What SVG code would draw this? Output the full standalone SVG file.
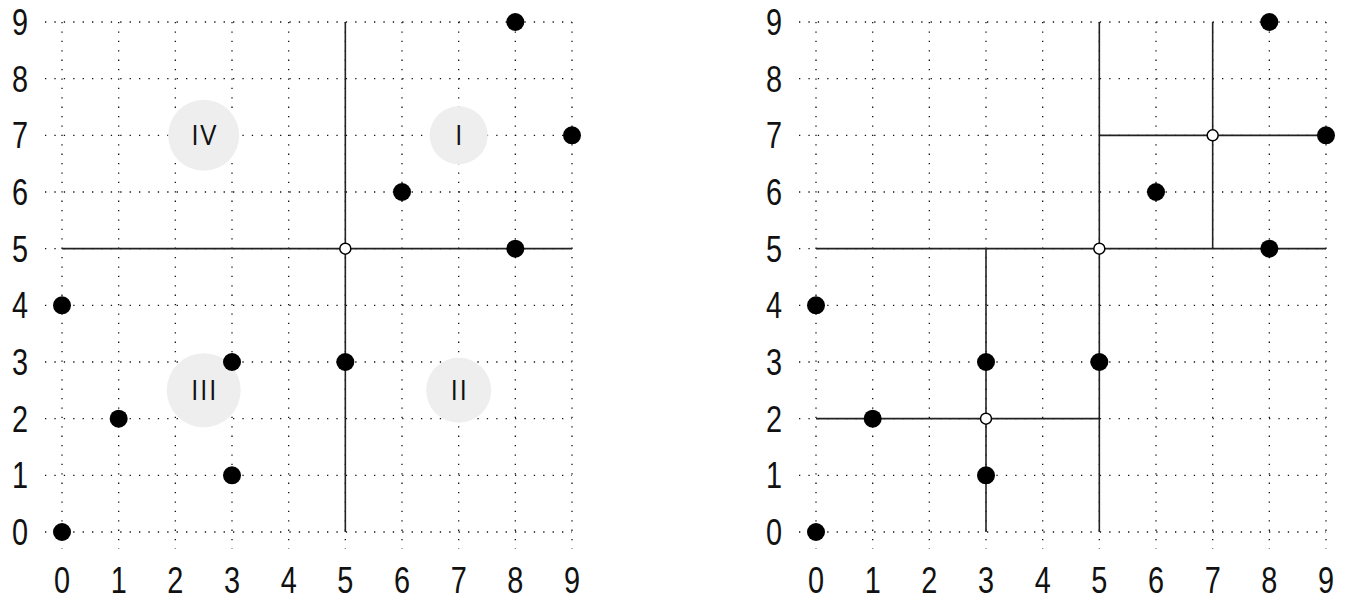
<svg xmlns="http://www.w3.org/2000/svg" xmlns:xlink="http://www.w3.org/1999/xlink" width="1366" height="616" viewBox="0 0 1366 616">
<style>
.grid line{stroke:#111;stroke-width:1.3;stroke-dasharray:1.3 8.1;fill:none}
.ax{font-family:"Liberation Sans",Arial,sans-serif;font-size:37px;fill:#111;text-anchor:middle}
.q{font-family:"Open Sans","Liberation Sans",sans-serif;font-size:27px;fill:#111;text-anchor:middle;letter-spacing:1.5px}
.qc{fill:#eeeeee}
.split{stroke:#222;stroke-width:1.6;fill:none}
.pt{fill:#000}
.op{fill:#fff;stroke:#000;stroke-width:1.5}
</style>
<defs>
<g id="grid" class="grid">
<line x1="45" y1="532" x2="572" y2="532"/>
<line x1="45" y1="475.33" x2="572" y2="475.33"/>
<line x1="45" y1="418.67" x2="572" y2="418.67"/>
<line x1="45" y1="362" x2="572" y2="362"/>
<line x1="45" y1="305.33" x2="572" y2="305.33"/>
<line x1="45" y1="248.67" x2="572" y2="248.67"/>
<line x1="45" y1="192" x2="572" y2="192"/>
<line x1="45" y1="135.33" x2="572" y2="135.33"/>
<line x1="45" y1="78.67" x2="572" y2="78.67"/>
<line x1="45" y1="22" x2="572" y2="22"/>
<line x1="62" y1="22" x2="62" y2="549"/>
<line x1="118.67" y1="22" x2="118.67" y2="549"/>
<line x1="175.33" y1="22" x2="175.33" y2="549"/>
<line x1="232" y1="22" x2="232" y2="549"/>
<line x1="288.67" y1="22" x2="288.67" y2="549"/>
<line x1="345.33" y1="22" x2="345.33" y2="549"/>
<line x1="402" y1="22" x2="402" y2="549"/>
<line x1="458.67" y1="22" x2="458.67" y2="549"/>
<line x1="515.33" y1="22" x2="515.33" y2="549"/>
<line x1="572" y1="22" x2="572" y2="549"/>
</g>
<g id="labels" class="ax">
<text transform="translate(20,545) scale(0.78,1)">0</text>
<text transform="translate(20,488.3) scale(0.78,1)">1</text>
<text transform="translate(20,431.7) scale(0.78,1)">2</text>
<text transform="translate(20,375) scale(0.78,1)">3</text>
<text transform="translate(20,318.3) scale(0.78,1)">4</text>
<text transform="translate(20,261.7) scale(0.78,1)">5</text>
<text transform="translate(20,205) scale(0.78,1)">6</text>
<text transform="translate(20,148.3) scale(0.78,1)">7</text>
<text transform="translate(20,91.7) scale(0.78,1)">8</text>
<text transform="translate(20,35) scale(0.78,1)">9</text>
<text transform="translate(62,593) scale(0.78,1)">0</text>
<text transform="translate(118.67,593) scale(0.78,1)">1</text>
<text transform="translate(175.33,593) scale(0.78,1)">2</text>
<text transform="translate(232,593) scale(0.78,1)">3</text>
<text transform="translate(288.67,593) scale(0.78,1)">4</text>
<text transform="translate(345.33,593) scale(0.78,1)">5</text>
<text transform="translate(402,593) scale(0.78,1)">6</text>
<text transform="translate(458.67,593) scale(0.78,1)">7</text>
<text transform="translate(515.33,593) scale(0.78,1)">8</text>
<text transform="translate(572,593) scale(0.78,1)">9</text>
</g>
</defs>

<g id="left-plot">
<use xlink:href="#grid"/>
<use xlink:href="#labels"/>
<g id="quadrant-IV"><circle class="qc" cx="203.7" cy="135.3" r="35.5"/><text class="q" x="204.5" y="145">IV</text></g>
<g id="quadrant-I"><circle class="qc" cx="458.7" cy="135.3" r="29"/><text class="q" x="459.5" y="145">I</text></g>
<g id="quadrant-III"><circle class="qc" cx="203.7" cy="390.3" r="37"/><text class="q" x="204.5" y="400">III</text></g>
<g id="quadrant-II"><circle class="qc" cx="458.7" cy="390.3" r="32.5"/><text class="q" x="459.5" y="400">II</text></g>
<g id="left-connectors">
<line class="split" x1="62" y1="248.67" x2="572" y2="248.67"/>
<line class="split" x1="345.33" y1="22" x2="345.33" y2="532"/>
</g>
<g id="left-points">
<circle class="pt" cx="62" cy="532" r="9"/>
<circle class="pt" cx="62" cy="305.33" r="9"/>
<circle class="pt" cx="118.67" cy="418.67" r="9"/>
<circle class="pt" cx="232" cy="475.33" r="9"/>
<circle class="pt" cx="232" cy="362" r="9"/>
<circle class="pt" cx="345.33" cy="362" r="9"/>
<circle class="pt" cx="402" cy="192" r="9"/>
<circle class="pt" cx="515.33" cy="248.67" r="9"/>
<circle class="pt" cx="515.33" cy="22" r="9"/>
<circle class="pt" cx="572" cy="135.33" r="9"/>
<circle class="op" cx="345.33" cy="248.67" r="5.5"/>
</g>
</g>

<g id="right-plot" transform="translate(754,0)">
<use xlink:href="#grid"/>
<use xlink:href="#labels"/>
<g id="right-connectors">
<line class="split" x1="62" y1="248.67" x2="572" y2="248.67"/>
<line class="split" x1="345.33" y1="22" x2="345.33" y2="532"/>
<line class="split" x1="232" y1="248.67" x2="232" y2="532"/>
<line class="split" x1="62" y1="418.67" x2="345.33" y2="418.67"/>
<line class="split" x1="458.67" y1="22" x2="458.67" y2="248.67"/>
<line class="split" x1="345.33" y1="135.33" x2="572" y2="135.33"/>
</g>
<g id="right-points">
<circle class="pt" cx="62" cy="532" r="9"/>
<circle class="pt" cx="62" cy="305.33" r="9"/>
<circle class="pt" cx="118.67" cy="418.67" r="9"/>
<circle class="pt" cx="232" cy="475.33" r="9"/>
<circle class="pt" cx="232" cy="362" r="9"/>
<circle class="pt" cx="345.33" cy="362" r="9"/>
<circle class="pt" cx="402" cy="192" r="9"/>
<circle class="pt" cx="515.33" cy="248.67" r="9"/>
<circle class="pt" cx="515.33" cy="22" r="9"/>
<circle class="pt" cx="572" cy="135.33" r="9"/>
<circle class="op" cx="345.33" cy="248.67" r="5.5"/>
<circle class="op" cx="232" cy="418.67" r="5.5"/>
<circle class="op" cx="458.67" cy="135.33" r="5.5"/>
</g>
</g>
</svg>
